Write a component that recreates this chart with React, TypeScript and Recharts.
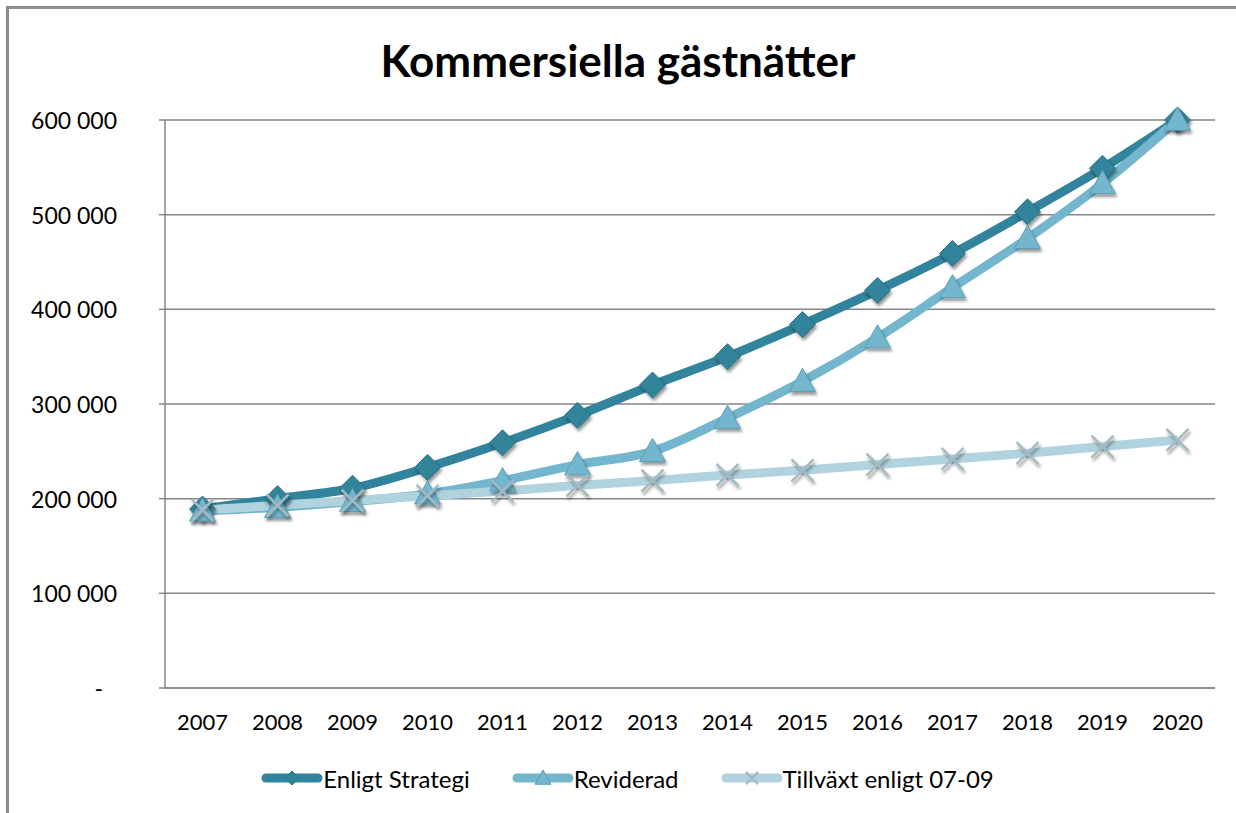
import React from 'react';
import { CartesianGrid, Legend, Line, LineChart, XAxis, YAxis } from 'recharts';

const years = ['2007', '2008', '2009', '2010', '2011', '2012', '2013', '2014', '2015', '2016', '2017', '2018', '2019', '2020'];
const enligtStrategi = [189000, 200000, 211000, 233000, 259000, 288000, 320000, 350000, 384000, 420000, 459000, 503000, 549000, 600000];
const reviderad = [187000, 191000, 197000, 205000, 219000, 236000, 250000, 285000, 324000, 370000, 423000, 475000, 533000, 600000];
const tillvaxt = [188000, 193000, 198000, 203000, 208000, 214000, 219000, 225000, 230000, 236000, 242000, 248000, 255000, 262000];
const yTicks = [0, 100000, 200000, 300000, 400000, 500000, 600000];

const data = years.map((year, i) => ({
  year,
  enligt: enligtStrategi[i],
  reviderad: reviderad[i],
  tillvaxt: tillvaxt[i],
}));

const FONT = 'Lato, "Open Sans", sans-serif';
const DARK = '#31849b';
const MID = '#73b6cd';
const LIGHT = '#b0d3df';
const GRID = '#868686';

const formatTick = (v: number) => (v === 0 ? '-' : `${Math.round(v / 1000)} 000`);

const Diamond = ({ cx, cy, r = 13, shadow = true }: any) => (
  <polygon
    points={`${cx},${cy - r} ${cx + r},${cy} ${cx},${cy + r} ${cx - r},${cy}`}
    fill={DARK}
    stroke='#2b7184'
    strokeWidth={1}
    filter={shadow ? 'url(#markerShadow)' : undefined}
  />
);

const Triangle = ({ cx, cy, r = 13, shadow = true }: any) => (
  <polygon
    points={`${cx},${cy - r} ${cx + r},${cy + r * 0.78} ${cx - r},${cy + r * 0.78}`}
    fill={MID}
    stroke='#5c9fb5'
    strokeWidth={1}
    filter={shadow ? 'url(#markerShadow)' : undefined}
  />
);

const Cross = ({ cx, cy, r = 11, shadow = true }: any) => (
  <g filter={shadow ? 'url(#markerShadow)' : undefined}>
    <line x1={cx - r} y1={cy - r} x2={cx + r} y2={cy + r} stroke='#a3bac3' strokeWidth={2.5} />
    <line x1={cx - r} y1={cy + r} x2={cx + r} y2={cy - r} stroke='#a3bac3' strokeWidth={2.5} />
  </g>
);

const YTick = ({ x, y, payload }: any) => (
  <text
    x={payload.value === 0 ? x - 14 : x}
    y={y}
    textAnchor='end'
    dominantBaseline='central'
    fontFamily={FONT}
    fontSize={23}
    fill='#000'
  >
    {formatTick(payload.value)}
  </text>
);

const legendItems = [
  { label: 'Enligt Strategi', color: DARK, Marker: Diamond, r: 7 },
  { label: 'Reviderad', color: MID, Marker: Triangle, r: 8 },
  { label: 'Tillväxt enligt 07-09', color: LIGHT, Marker: Cross, r: 6 },
];

const LegendContent = () => (
  <div
    style={{
      height: 50,
      display: 'flex',
      justifyContent: 'center',
      gap: 42,
      paddingLeft: 40,
      fontFamily: FONT,
      fontSize: 24,
    }}
  >
    {legendItems.map(({ label, color, Marker, r }) => (
      <div key={label} style={{ display: 'flex', alignItems: 'center', height: 30 }}>
        <svg width={62} height={30}>
          <line x1={5} y1={15} x2={57} y2={15} stroke={color} strokeWidth={9} strokeLinecap='round' />
          <Marker cx={31} cy={15} r={r} shadow={false} />
        </svg>
        <span style={{ color: '#000' }}>{label}</span>
      </div>
    ))}
  </div>
);

export default function App() {
  return (
    <div style={{ position: 'absolute', left: 0, top: 0, width: 1236, height: 813, overflow: 'hidden', background: '#fff' }}>
      <svg width={0} height={0} style={{ position: 'absolute' }}>
        <defs>
          <filter id='markerShadow' x='-50%' y='-50%' width='200%' height='200%'>
            <feDropShadow dx={1.5} dy={3} stdDeviation={1.8} floodColor='#000' floodOpacity={0.4} />
          </filter>
        </defs>
      </svg>
      <div
        style={{
          position: 'absolute',
          top: 34,
          left: 0,
          width: 1236,
          textAlign: 'center',
          fontFamily: FONT,
          fontWeight: 700,
          fontSize: 44,
          color: '#000',
        }}
      >
        Kommersiella gästnätter
      </div>
      <div style={{ position: 'absolute', left: 0, top: 0 }}>
        <LineChart width={1236} height={813} data={data} margin={{ top: 120, right: 21, left: 0, bottom: 0 }}>
          <CartesianGrid horizontal vertical={false} stroke={GRID} strokeWidth={1.5} />
          <XAxis
            dataKey='year'
            height={75}
            padding={{ left: 37.5, right: 37.5 }}
            tickLine={false}
            tickSize={0}
            tickMargin={26}
            axisLine={{ stroke: GRID, strokeWidth: 1.5 }}
            tick={{ fontFamily: FONT, fontSize: 22, fill: '#000' }}
            interval={0}
          />
          <YAxis
            width={165}
            domain={[0, 600000]}
            ticks={yTicks}
            tickSize={6}
            tickMargin={42}
            tickLine={{ stroke: GRID, strokeWidth: 1.5 }}
            axisLine={{ stroke: GRID, strokeWidth: 1.5 }}
            tick={<YTick />}
            interval={0}
          />
          <Legend verticalAlign='bottom' content={<LegendContent />} />
          <Line
            type='monotone'
            dataKey='enligt'
            name='Enligt Strategi'
            stroke={DARK}
            strokeWidth={9}
            dot={(p: any) => <Diamond key={`d${p.index}`} cx={p.cx} cy={p.cy} />}
            activeDot={false}
            isAnimationActive={false}
          />
          <Line
            type='monotone'
            dataKey='reviderad'
            name='Reviderad'
            stroke={MID}
            strokeWidth={9}
            dot={(p: any) => <Triangle key={`t${p.index}`} cx={p.cx} cy={p.cy} />}
            activeDot={false}
            isAnimationActive={false}
          />
          <Line
            type='monotone'
            dataKey='tillvaxt'
            name='Tillväxt enligt 07-09'
            stroke={LIGHT}
            strokeWidth={9}
            dot={(p: any) => <Cross key={`x${p.index}`} cx={p.cx} cy={p.cy} />}
            activeDot={false}
            isAnimationActive={false}
          />
        </LineChart>
      </div>
      <div
        style={{
          position: 'absolute',
          left: 6,
          top: 6,
          width: 1260,
          height: 840,
          borderLeft: '3px solid #8c8c8c',
          borderTop: '3px solid #8c8c8c',
          pointerEvents: 'none',
        }}
      />
    </div>
  );
}
